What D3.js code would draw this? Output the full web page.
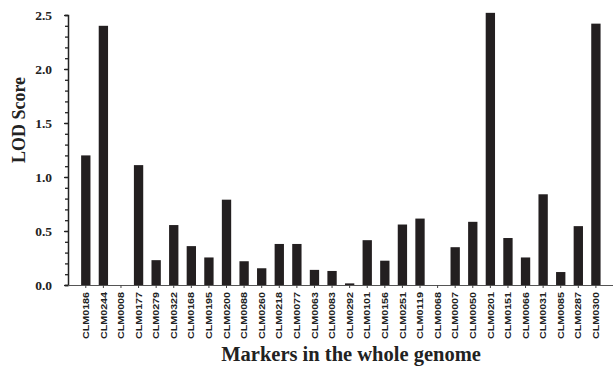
<!DOCTYPE html>
<html>
<head>
<meta charset="utf-8">
<script src="https://cdn.jsdelivr.net/npm/d3@7"></script>
<style>
  body { margin: 0; background: #fff; }
  svg { display: block; }
</style>
</head>
<body>
<div id="chart"></div>
<script>
// marker names along the x axis
const markers = ["CLM0186", "CLM0244", "CLM0008", "CLM0177", "CLM0279", "CLM0322",
  "CLM0168", "CLM0195", "CLM0200", "CLM0088", "CLM0260", "CLM0218", "CLM0077",
  "CLM0063", "CLM0083", "CLM0292", "CLM0101", "CLM0156", "CLM0251", "CLM0119",
  "CLM0068", "CLM0007", "CLM0050", "CLM0201", "CLM0151", "CLM0066", "CLM0031",
  "CLM0085", "CLM0287", "CLM0300"];
// LOD score per marker
const lodScores = [1.20, 2.40, 0, 1.11, 0.23, 0.555, 0.36, 0.255, 0.79, 0.22, 0.155,
  0.38, 0.38, 0.14, 0.13, 0.015, 0.415, 0.225, 0.56, 0.615, 0, 0.35, 0.585, 2.52,
  0.435, 0.255, 0.84, 0.12, 0.545, 2.42];
const yTicks = [0, 0.5, 1.0, 1.5, 2.0, 2.5];

const width = 613, height = 366;
const margin = {top: 15, right: 8, bottom: 81, left: 68};

const svg = d3.select('#chart').append('svg')
  .attr('width', width)
  .attr('height', height);

const x = d3.scaleBand()
  .domain(markers)
  .range([margin.left + 9, margin.left + 9 + 17.59 * 30])
  .paddingInner(0.47)
  .paddingOuter(0.235);

const y = d3.scaleLinear()
  .domain([0, 2.5])
  .range([height - margin.bottom, margin.top]);

// bars
svg.append('g').selectAll('rect')
  .data(markers)
  .enter().append('rect')
  .attr('x', d => x(d))
  .attr('width', x.bandwidth())
  .attr('y', (d, i) => y(lodScores[i]))
  .attr('height', (d, i) => y(0) - y(lodScores[i]))
  .style('fill', '#231f20');

// y axis with minor ticks
const yAxisG = svg.append('g')
  .attr('transform', 'translate(' + margin.left + ',0)');
yAxisG.call(d3.axisLeft(y).tickValues(d3.range(0, 2.51, 0.1)).tickSize(3).tickFormat(''));
yAxisG.call(g => g.selectAll('.tick line').style('stroke', '#222').style('stroke-width', 1.3));
yAxisG.select('.domain').style('stroke', '#222').style('stroke-width', 1.5);

const yLabels = svg.append('g')
  .attr('transform', 'translate(' + margin.left + ',0)')
  .call(d3.axisLeft(y).tickValues(yTicks).tickSize(4).tickPadding(12).tickFormat(d3.format('.1f')));
yLabels.select('.domain').remove();
yLabels.selectAll('.tick line').style('stroke', '#222').style('stroke-width', 1.3);
yLabels.selectAll('text')
  .style('font-family', '"Liberation Serif", "Times New Roman", serif')
  .style('font-weight', 'bold')
  .style('font-size', '13.5px')
  .style('fill', '#222');

// x axis
const xAxisG = svg.append('g')
  .attr('transform', 'translate(0,' + y(0) + ')')
  .call(d3.axisBottom(x).tickSize(3).tickSizeOuter(0).tickPadding(5));
xAxisG.select('.domain')
  .attr('d', 'M' + margin.left + ',0.5H' + width)
  .style('stroke', '#555').style('stroke-width', 1.2);
xAxisG.selectAll('.tick line').style('stroke', '#444');
xAxisG.selectAll('text')
  .attr('transform', 'rotate(-90)')
  .attr('x', -7)
  .attr('y', 0)
  .attr('dy', '0.35em')
  .style('text-anchor', 'end')
  .style('font-family', '"Liberation Sans", Arial, sans-serif')
  .style('font-weight', 'bold')
  .style('font-size', '9px')
  .style('fill', '#222')
  .attr('textLength', 47)
  .attr('lengthAdjust', 'spacingAndGlyphs');

// axis titles
svg.append('text')
  .attr('transform', 'translate(25,' + 120 + ') rotate(-90)')
  .attr('text-anchor', 'middle')
  .style('font-family', '"Liberation Serif", "Times New Roman", serif')
  .style('font-weight', 'bold')
  .style('font-size', '18px')
  .style('fill', '#222')
  .text('LOD Score');

svg.append('text')
  .attr('x', 351)
  .attr('y', 361)
  .attr('text-anchor', 'middle')
  .style('font-family', '"Liberation Serif", "Times New Roman", serif')
  .style('font-weight', 'bold')
  .style('font-size', '20.5px')
  .style('fill', '#222')
  .text('Markers in the whole genome');
</script>
</body>
</html>
